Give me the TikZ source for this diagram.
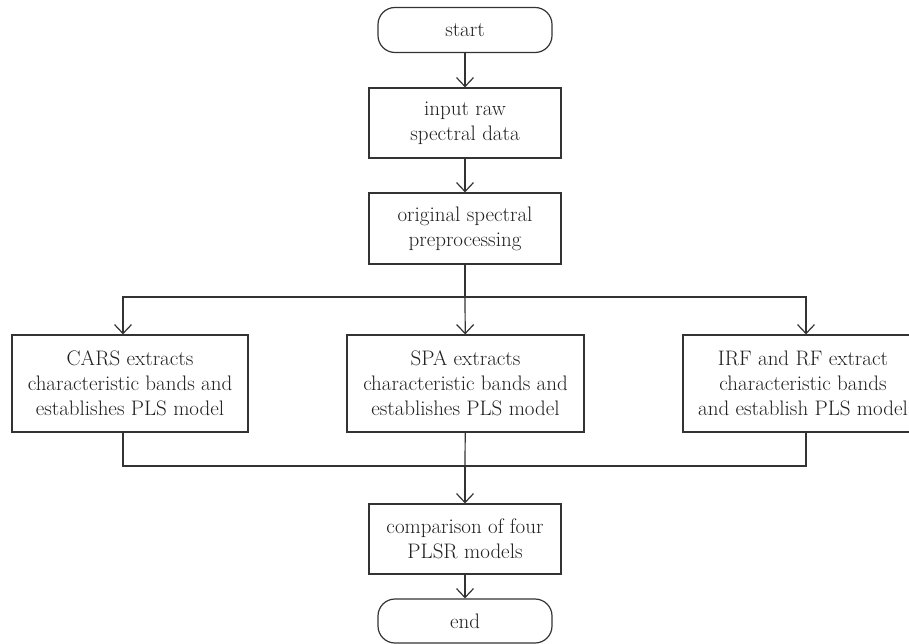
\documentclass[tikz,border=0pt]{standalone}
\usepackage{fontspec}
\usepackage{tikz}
\usetikzlibrary{arrows.meta}
\definecolor{inkgray}{HTML}{333333}

\begin{document}
\begin{tikzpicture}[x=1pt, y=-1pt,
		every node/.style={font=\fontsize{21}{25}\selectfont, text=black!88, align=center},
		box/.style={draw=inkgray, line width=1.2pt, inner sep=0pt},
		terminal/.style={box, rounded corners=17pt, minimum width=174pt, minimum height=45pt},
		link/.style={draw=inkgray, line width=1.2pt},
		arrow/.style={link, -{Straight Barb[length=9pt, width=17pt, line width=1.2pt]}}]
		%%%%% START %%%%%
		
		\useasboundingbox (0, 0) rectangle (909, 644);
		
		\node[terminal] (start) at (465, 30) {start};
		\node[box, minimum width=192pt, minimum height=70pt] (input) at (465, 123) {input raw\\spectral data};
		\node[box, minimum width=192pt, minimum height=71pt] (orig) at (465, 228.5) {original spectral\\preprocessing};
		
		\node[box, minimum width=236pt, minimum height=97pt] (cars) at (130, 383.5) {CARS extracts\\characteristic bands and\\establishes PLS model};
		\node[box, minimum width=237pt, minimum height=97pt] (spa) at (465.5, 383.5) {SPA extracts\\characteristic bands and\\establishes PLS model};
		\node[box, minimum width=240pt, minimum height=97pt] (irf) at (803, 383.5) {IRF and RF extract\\characteristic bands\\and establish PLS model};
		
		\node[box, minimum width=192pt, minimum height=70pt] (comp) at (465, 539) {comparison of four\\PLSR models};
		\node[terminal, minimum height=44pt] (end) at (465, 621) {end};
		
		\coordinate (split) at (465, 297);
		\coordinate (merge) at (465, 466);
		\coordinate (carsin) at ([xshift=-7pt]cars.north);
		\coordinate (carsout) at ([xshift=-7pt]cars.south);
		\coordinate (irfin) at ([xshift=3pt]irf.north);
		\coordinate (irfout) at ([xshift=3pt]irf.south);
		
		\draw[arrow] (start) -- (input);
		\draw[arrow] (input) -- (orig);
		
		\draw[link] (orig) -- (split);
		\draw[arrow] (split) -| (carsin);
		\draw[arrow] (split) -- (spa);
		\draw[arrow] (split) -| (irfin);
		
		\draw[link] (carsout) |- (merge);
		\draw[link] (irfout) |- (merge);
		\draw[link] (spa) -- (merge);
		\draw[arrow] (merge) -- (comp);
		\draw[arrow] (comp) -- (end);
		
		%%%%% END %%%%%
	\end{tikzpicture}
\end{document}
